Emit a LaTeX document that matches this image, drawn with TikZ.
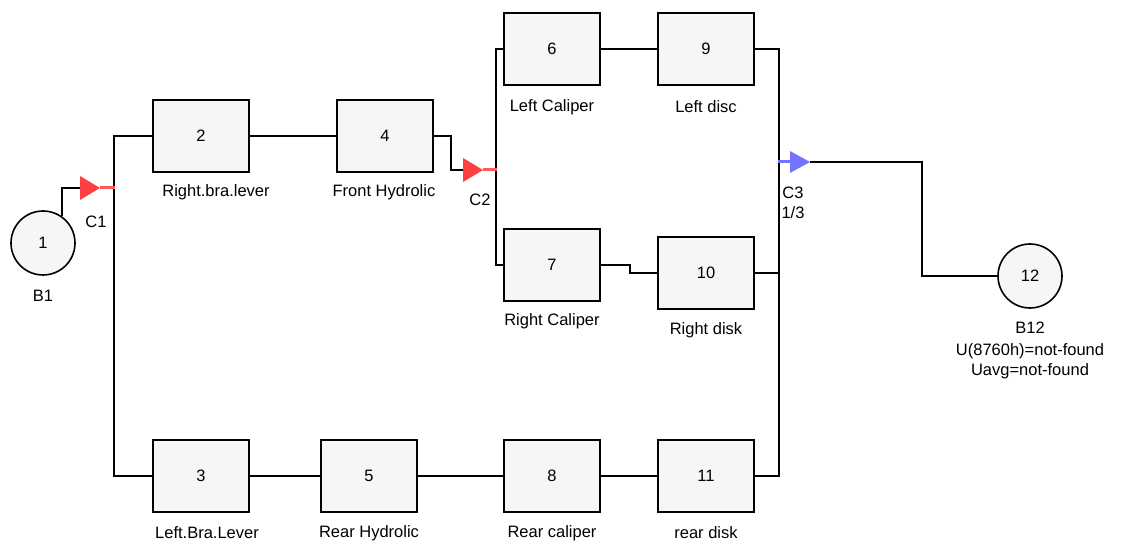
\documentclass[tikz,border=0pt]{standalone}
\usepackage{fontspec}
\setmainfont{Liberation Sans}
\begin{document}
\begin{tikzpicture}[x=1pt,y=-1pt,
  txt/.style={font=\fontsize{16.5}{18}\selectfont, inner sep=0pt},
  blk/.style={draw, line width=1.9pt, fill=gray!7, minimum width=96pt, minimum height=72pt, inner sep=0pt, font=\fontsize{16.5}{18}\selectfont},
  circ/.style={circle, draw, line width=1.6pt, fill=gray!7, minimum size=64pt, inner sep=0pt, font=\fontsize{16.5}{18}\selectfont},
  wire/.style={line width=1.6pt},
  redtri/.style={fill=red!75},
  bluetri/.style={fill=blue!55},
  redtail/.style={draw=red!65, line width=3pt},
  bluetail/.style={draw=blue!55, line width=3pt}]
\useasboundingbox (0,0) rectangle (1122,545);

% blocks
\node[blk] (n2)  at (201,136) {2};
\node[blk] (n4)  at (385,136) {4};
\node[blk] (n6)  at (552,49)  {6};
\node[blk] (n9)  at (706,49)  {9};
\node[blk] (n7)  at (552,265) {7};
\node[blk] (n10) at (706,273) {10};
\node[blk] (n3)  at (201,476) {3};
\node[blk] (n5)  at (369,476) {5};
\node[blk] (n8)  at (552,476) {8};
\node[blk] (n11) at (706,476) {11};
\node[circ] (b1)  at (43,243)  {1};
\node[circ] (b12) at (1030,276) {12};

% labels
\node[txt] (l2)  at (216,192) {Right.bra.lever};
\node[txt] (l4)  at (384,192) {Front Hydrolic};
\node[txt] (l6)  at (552,107) {Left Caliper};
\node[txt] (l9)  at (706,107) {Left disc};
\node[txt] (l7)  at (552,321) {Right Caliper};
\node[txt] (l10) at (706,330) {Right disk};
\node[txt] (l3)  at (207,533) {Left.Bra.Lever};
\node[txt] (l5)  at (369,533) {Rear Hydrolic};
\node[txt] (l8)  at (552,533) {Rear caliper};
\node[txt] (l11) at (706,533) {rear disk};
\node[txt] (lb1) at (43,296) {B1};
\node[txt] (lb12) at (1030,328) {B12};
\node[txt] (lu)  at (1030,351) {U(8760h)=not-found};
\node[txt] (lua) at (1030,371) {Uavg=not-found};
\node[txt] (lc1) at (96,222) {C1};
\node[txt] (lc2) at (480,200) {C2};
\node[txt] (lc3) at (793,193) {C3};
\node[txt] (lk3) at (793,213) {1/3};

% connector coordinates
\coordinate (c1b) at (80,188);  \coordinate (c1a) at (100,188); \coordinate (bus1) at (115,188);
\coordinate (c2b) at (463,170); \coordinate (c2a) at (483,170); \coordinate (bus2) at (497,170);
\coordinate (bus3) at (778,162); \coordinate (c3b) at (790,162); \coordinate (c3a) at (810,162);

% wires
\draw[wire] (b1.55) |- (c1b);
\draw[wire] (n2.west) -- ++(-38,0) |- (n3.west);
\draw[wire] (n2) -- (n4);
\draw[wire] (n4.east) -- ++(17,0) |- (c2b);
\draw[wire] (n6.west) -- ++(-7,0) |- (n7.west);
\draw[wire] (n6) -- (n9);
\draw[wire] (n7.east) -- ++(29,0) |- (n10.west);
\draw[wire] (n3) -- (n5);
\draw[wire] (n5) -- (n8);
\draw[wire] (n8) -- (n11);
\draw[wire] (n9.east) -- ++(24,0) |- (n11.east);
\draw[wire] (n10.east) -- (n10.east -| bus3);
\draw[wire] (c3a) -- ++(112,0) |- (b12.west);

% connector symbols
\draw[redtail] (c1a) -- (bus1);
\fill[redtri] (c1b) ++(0,-12) -- (c1a) -- ++(-20,12) -- cycle;
\draw[redtail] (c2a) -- (bus2);
\fill[redtri] (c2b) ++(0,-12) -- (c2a) -- ++(-20,12) -- cycle;
\draw[bluetail] (bus3) -- (c3b);
\fill[bluetri] (c3b) ++(0,-11) -- (c3a) -- ++(-20,11) -- cycle;
\end{tikzpicture}
\end{document}
